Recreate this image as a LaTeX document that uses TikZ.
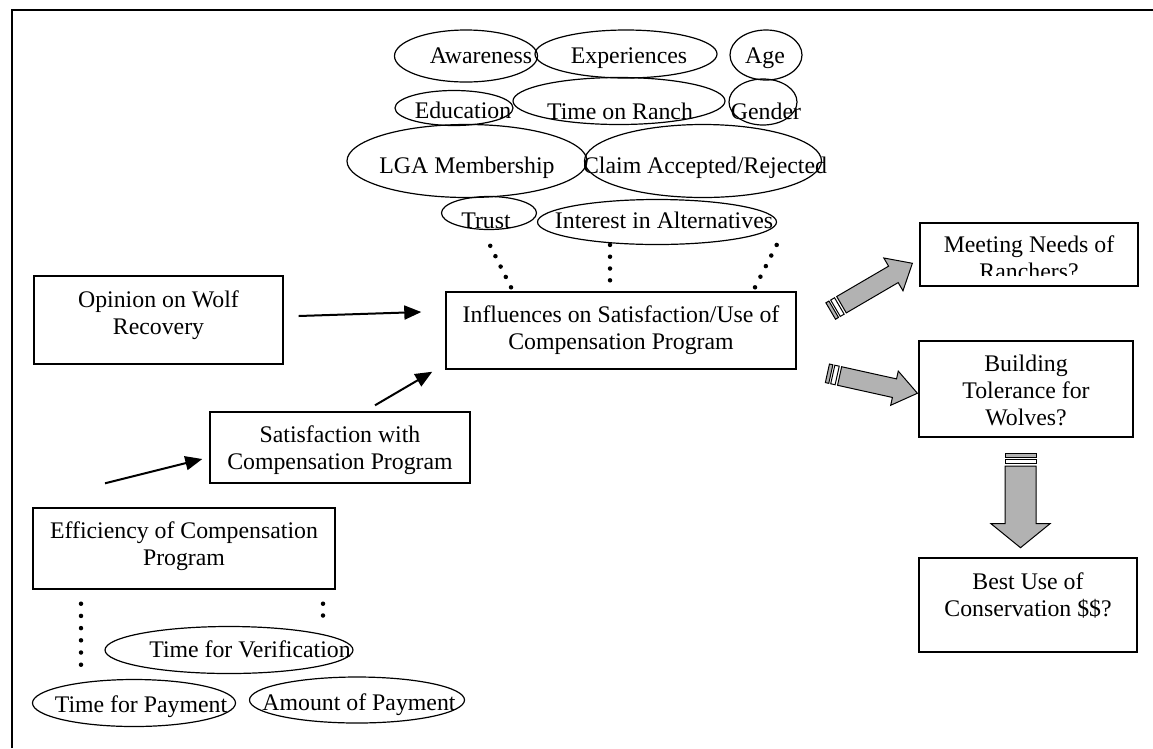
\documentclass[tikz,border=0pt]{standalone}
\usepackage{fontspec}
\setmainfont{Liberation Serif}
\usetikzlibrary{shapes.geometric,arrows.meta,calc}
\newcommand\blockarr[4]{%
  \filldraw[bafill] (0,-#2) rectangle (3.5,#2);
  \filldraw[bawhite] (5.5,-#2) rectangle (10,#2);
  \filldraw[bafill] (12.5,-#2) -- ({#1-#4},-#2) -- ({#1-#4},-#3) -- (#1,0) -- ({#1-#4},#3) -- ({#1-#4},#2) -- (12.5,#2) -- cycle;}
\begin{document}
\begin{tikzpicture}[x=1pt,y=-1pt, font=\fontsize{23.8}{27}\selectfont,
  box/.style={draw, rectangle, line width=1.4pt, inner sep=0pt},
  ell/.style={draw, ellipse, line width=1.2pt, inner sep=0pt},
  etxt/.style={text height=16.5pt, text depth=5.2pt, inner sep=0pt},
  lab/.style={align=center, inner sep=0pt},
  arr/.style={line width=2pt, -{Triangle[length=17pt,width=14pt]}},
  dotline/.style={line width=4.5pt, line cap=round, dash pattern=on 0pt off #1},
  bafill/.style={draw=black, line width=1pt, fill=black!30},
  bawhite/.style={draw=black, line width=1pt, fill=white}]
\useasboundingbox (0,0) rectangle (1153,748);
% frame
\draw[line width=2pt] (12,748) -- (12,10) -- (1153,10);

% top ellipses
\node[ell, minimum width=143pt, minimum height=52pt, label={[etxt,xshift=15pt,yshift=-1.4pt]center:Awareness}] (aw) at (466,56) {};
\node[ell, minimum width=182pt, minimum height=48pt, label={[etxt,xshift=3pt,yshift=-3.4pt]center:Experiences}] (ex) at (626,54) {};
\node[ell, minimum width=72pt, minimum height=50pt, label={[etxt,xshift=-1pt,yshift=-2.4pt]center:Age}] (age) at (766,55) {};
\node[ell, minimum width=118pt, minimum height=35pt, label={[etxt,xshift=9pt,yshift=-4.4pt]center:Education}] (ed) at (454,108) {};
\node[ell, minimum width=212pt, minimum height=47pt, label={[etxt,xshift=1pt,yshift=-12.4pt]center:Time on Ranch}] (tor) at (619,101) {};
\node[ell, minimum width=68pt, minimum height=46pt, label={[etxt,xshift=3pt,yshift=-11.4pt]center:Gender}] (gen) at (763,102) {};
\node[ell, minimum width=240pt, minimum height=73pt, label={[etxt,yshift=-6.4pt]center:LGA Membership}] (lga) at (467,161) {};
\node[ell, minimum width=237pt, minimum height=73pt, label={[etxt,xshift=2pt,yshift=-6.4pt]center:Claim Accepted/Rejected}] (cl) at (703,161) {};
\node[ell, minimum width=95pt, minimum height=33pt, label={[etxt,xshift=-3pt,yshift=-9.4pt]center:Trust}] (tru) at (489,213) {};
\node[ell, minimum width=239pt, minimum height=45pt, label={[etxt,xshift=7pt,yshift=-0.4pt]center:Interest in Alternatives}] (int) at (657,222) {};

% boxes
\node[box, minimum width=249pt, minimum height=88pt, label={[lab,yshift=4.5pt]center:{Opinion on Wolf\\Recovery}}] (op) at (158.5,320) {};
\node[box, minimum width=260pt, minimum height=71pt, label={[lab,yshift=-2.5pt]center:{Satisfaction with\\Compensation Program}}] (sat) at (340,447.5) {};
\node[box, minimum width=302pt, minimum height=81pt, label={[lab,yshift=2.5pt]center:{Efficiency of Compensation\\Program}}] (eff) at (184,548.5) {};
\node[box, minimum width=350pt, minimum height=77pt, label={[lab]center:{Influences on Satisfaction/Use of\\Compensation Program}}] (infl) at (621,330.5) {};
\node[box, minimum width=218pt, minimum height=63pt] (meet) at (1029,254.5) {};
\begin{scope}
  \clip ($(meet.north west)+(2,2)$) rectangle ($(meet.south east)+(-2,-11)$);
  \node[lab] (meettxt) at ($(meet.center)+(0,3.5)$) {Meeting Needs of\\Ranchers?};
\end{scope}
\node[box, minimum width=214pt, minimum height=96pt, label={[lab,yshift=-1.5pt]center:{Building\\Tolerance for\\Wolves?}}] (build) at (1026,389) {};
\node[box, minimum width=218pt, minimum height=94pt, label={[lab,yshift=9pt]center:{Best Use of\\Conservation \$\$?}}] (best) at (1028,605) {};

% bottom ellipses
\node[ell, minimum width=248pt, minimum height=47pt, label={[etxt,xshift=21pt,yshift=-1.4pt]center:Time for Verification}] (tv) at (229,650) {};
\node[ell, minimum width=203pt, minimum height=47pt, label={[etxt,xshift=7pt,yshift=-3.4pt]center:Time for Payment}] (tp) at (134,703) {};
\node[ell, minimum width=215pt, minimum height=46pt, label={[etxt,xshift=2pt,yshift=-4.4pt]center:Amount of Payment}] (ap) at (357,700) {};

% thin arrows
\draw[arr] ($(op.east)+(15,-4)$) -- ($(infl.west)+(-24,-18.5)$);
\draw[arr] ($(sat.north)+(35,-6)$) -- ($(infl.south west)+(-13,2)$);
\draw[arr] ($(eff.north)+(-79,-24)$) -- ($(sat.west)+(-7,11.5)$);

% dotted connectors
\draw[dotline=11.6pt] ($(infl.north)+(-110,-4)$) -- ($(infl.north)+(-131,-46)$);
\draw[dotline=11.8pt] ($(infl.north)+(-11,-11)$) -- ($(infl.north)+(-11,-47)$);
\draw[dotline=11.9pt] ($(infl.north)+(134,-4)$) -- ($(infl.north)+(156,-47)$);
\draw[dotline=12.2pt] ($(eff.south)+(-103,14)$) -- ($(eff.south)+(-103,76)$);
\draw[dotline=11.8pt] ($(eff.south)+(139,14)$) -- ($(eff.south)+(139,26)$);

% block arrows
\begin{scope}[shift={($(infl.east)+(34,-19.5)$)}, rotate=30.3]
  \blockarr{94.6}{9.5}{19}{22}
\end{scope}
\begin{scope}[shift={($(infl.east)+(30.7,42.8)$)}, rotate=-12.5]
  \blockarr{92.2}{9.5}{17.5}{23.5}
\end{scope}
\begin{scope}[shift={($(build.south)+(-5.5,16)$)}, rotate=-90]
  \blockarr{94}{15.5}{29.5}{24}
\end{scope}
\end{tikzpicture}
\end{document}
